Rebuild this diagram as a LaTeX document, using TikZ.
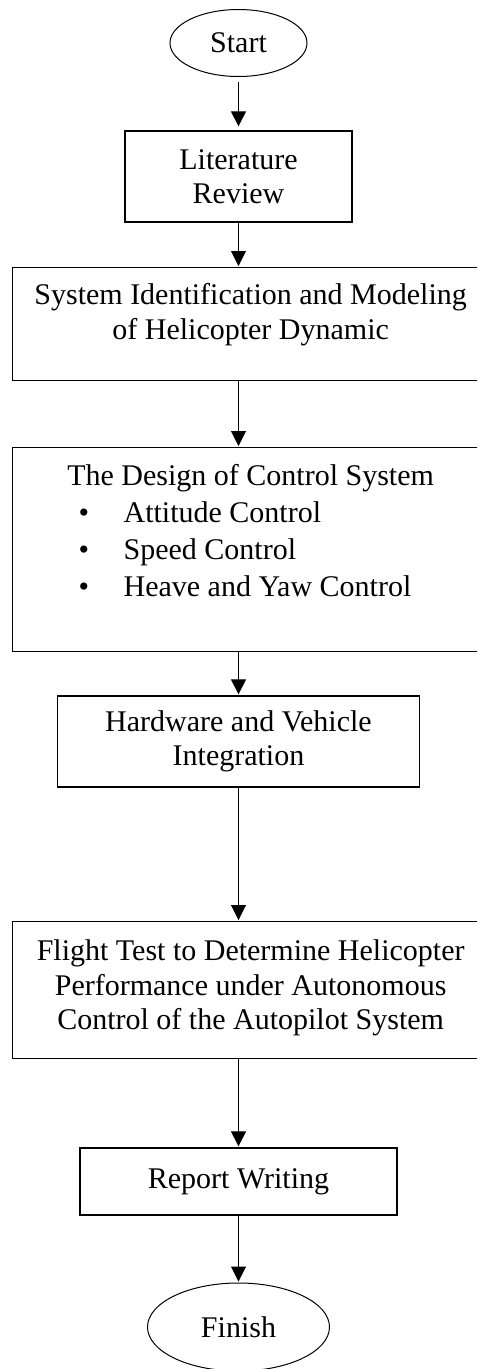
\documentclass[tikz,border=0pt]{standalone}
\usepackage{fontspec}
\setmainfont{Liberation Serif}
\usetikzlibrary{arrows.meta,shapes.geometric}

% bullet line and top-aligned text for the wide boxes
\newcommand{\ctlitem}[1]{\hspace*{66pt}\makebox[45pt][l]{\textbullet}#1\par}
\newcommand{\widetext}[3]{\parbox[c][#1][t]{476pt}{\centering\rule{0pt}{#2}#3}}

\begin{document}
\begin{tikzpicture}[x=1pt, y=-1pt, shorten >=1pt, >={Triangle[length=15pt,width=15pt]},
  every node/.style={font=\fontsize{30pt}{34.5pt}\selectfont},
  term node/.style={ellipse,draw,line width=1pt,inner sep=0pt},
  task node/.style={rectangle,draw,line width=1.3pt,align=center,inner sep=0pt},
  wide node/.style={rectangle,draw,line width=1.3pt,inner sep=0pt,anchor=north west}]
\useasboundingbox (0,0) rectangle (477,1369);
\clip (0,0) rectangle (477,1369);
\coordinate (axis) at (238.5,0);
\begin{scope}
\node[term node,minimum width=137pt,minimum height=67pt] (start) at (238.5,43) {Start};
\node[task node,minimum width=227pt,minimum height=91pt] (lit) at (238.5,176.5) {Literature\\Review};
\node[wide node] (sys) at (12,267) {\widetext{113pt}{37pt}{System Identification and Modeling\\of Helicopter Dynamic}};
\node[wide node] (design) at (12,447) {\widetext{204pt}{38pt}{The Design of Control System\par
  \raggedright\baselineskip=37pt
  \ctlitem{Attitude Control}
  \ctlitem{Speed Control}
  \ctlitem{Heave and Yaw Control}}};
\node[task node,minimum width=362pt,minimum height=91pt] (hw) at (238.5,741.5) {Hardware and Vehicle\\Integration};
\node[wide node] (flight) at (12,921) {\widetext{137pt}{39pt}{Flight Test to Determine Helicopter\\Performance under Autonomous\\Control of the Autopilot System}};
\node[task node,minimum width=317pt,minimum height=67pt] (report) at (238.5,1181.5) {Report Writing};
\node[term node,minimum width=182pt,minimum height=88pt] (finish) at (238.5,1327) {Finish};
\end{scope}
\begin{scope}[line width=1pt]
\draw (start) edge[->,shorten <=5pt,shorten >=4pt] (lit);
\draw (lit) edge[->] (axis |- sys.north);
\draw (axis |- sys.south) edge[->] (axis |- design.north);
\draw (axis |- design.south) edge[->] (hw);
\draw (hw) edge[->] (axis |- flight.north);
\draw (axis |- flight.south) edge[->] (report);
\draw (report) edge[->] (finish);
\end{scope}
\end{tikzpicture}
\end{document}
